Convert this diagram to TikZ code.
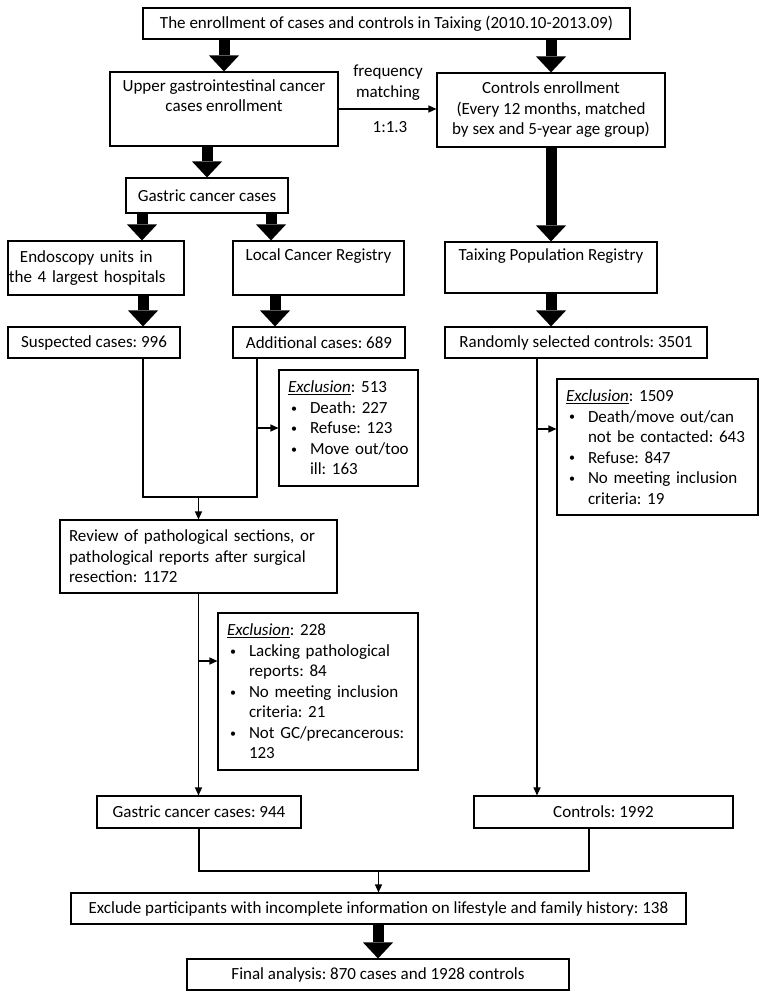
\documentclass[tikz,border=0pt]{standalone}
\usepackage{fontspec}
\setmainfont{Carlito}
\usetikzlibrary{arrows.meta, calc, positioning}

\frenchspacing
\newcommand{\bdot}{\raisebox{1.2pt}{\fontsize{12}{12}\selectfont\textbullet}}
\newcommand{\bitem}[1]{\makebox[22pt][l]{\hspace{3pt}\bdot}#1}
\newcommand{\bcont}[1]{\hspace*{22pt}#1}

\begin{document}
\begin{tikzpicture}[x=1pt, y=-1pt, font=\fontsize{17}{20.5}\selectfont]
        \useasboundingbox (0,0) rectangle (765,998);

        \tikzstyle{bx} = [draw, line width=1.1pt, inner sep=0pt, align=center];
        \tikzstyle{lx} = [bx, align=left, inner xsep=9pt];
        \tikzstyle{fa} = [line width=11pt, -{Triangle[length=16pt, width=30pt, line width=0pt]}];
        \tikzstyle{ar} = [line width=1.3pt, -{Triangle[length=8pt, width=7pt]}];
        \tikzstyle{ln} = [line width=1.3pt];

        % cases / controls enrollment
        \node [bx, minimum width=487pt, minimum height=31pt] (top) at (386.5, 23.5)
            {The enrollment of cases and controls in Taixing (2010.10-2013.09)};
        \node [bx, minimum width=228pt, minimum height=74pt] (gi) at (224, 109)
            {Upper gastrointestinal cancer\\cases enrollment\\\strut};
        \node [bx, minimum width=228pt, minimum height=74pt] (ctrl) at (551, 110)
            {Controls enrollment\\(Every 12 months, matched\\by sex and 5-year age group)};
        \node [align=center, inner sep=0pt] (fm) at (388, 82.5) {frequency\\matching};
        \node [inner sep=0pt] (ratio) at (390, 127) {1:1.3};

        % sources
        \node [bx, minimum width=162pt, minimum height=35pt] (gastric) at (207, 195.5)
            {Gastric cancer cases};
        \node [bx, align=left, inner xsep=1pt, text width=174pt, minimum height=54pt] (endo) at (96, 268)
            {\hspace*{11pt}Endoscopy units in\\the 4 largest hospitals};
        \node [bx, minimum width=171pt, minimum height=54pt] (lcr) at (318.5, 268)
            {Local Cancer Registry\\\strut};
        \node [bx, minimum width=212pt, minimum height=51pt] (tpr) at (551, 267.5)
            {Taixing Population Registry\\\strut};

        \node [bx, minimum width=172pt, minimum height=31pt] (susp) at (94, 342.5)
            {Suspected cases: 996};
        \node [bx, minimum width=172pt, minimum height=31pt] (addc) at (319, 342.5)
            {Additional cases: 689};
        \node [bx, minimum width=262pt, minimum height=31pt] (rand) at (576, 342.5)
            {Randomly selected controls: 3501};

        % exclusions
        \node [lx, text width=121pt, minimum height=116pt] (ex1) at (348.5, 428)
            {\underline{\textit{Exclusion}}: 513\\
             \bitem{Death: 227}\\
             \bitem{Refuse: 123}\\
             \bitem{Move out/too}\\
             \bcont{ill: 163}};
        \node [lx, text width=183pt, minimum height=136pt] (ex2) at (657.5, 447)
            {\underline{\textit{Exclusion}}: 1509\\
             \bitem{Death/move out/can}\\
             \bcont{not be contacted: 643}\\
             \bitem{Refuse: 847}\\
             \bitem{No meeting inclusion}\\
             \bcont{criteria: 19}};
        \node [lx, text width=259pt, minimum height=73pt] (review) at (198.5, 556.5)
            {Review of pathological sections, or\\
             pathological reports after surgical\\
             resection: 1172};
        \node [lx, text width=182pt, minimum height=157pt] (ex3) at (318, 691.5)
            {\underline{\textit{Exclusion}}: 228\\
             \bitem{Lacking pathological}\\
             \bcont{reports: 84}\\
             \bitem{No meeting inclusion}\\
             \bcont{criteria: 21}\\
             \bitem{Not GC/precancerous:}\\
             \bcont{123}};

        % final counts
        \node [bx, minimum width=204pt, minimum height=32pt] (gc) at (199, 812)
            {Gastric cancer cases: 944};
        \node [bx, minimum width=259pt, minimum height=32pt] (cc) at (603.5, 812)
            {Controls: 1992};
        \node [bx, minimum width=615pt, minimum height=31pt] (excl) at (378.5, 908.5)
            {Exclude participants with incomplete information on lifestyle and family history: 138};
        \node [bx, minimum width=382pt, minimum height=31pt] (final) at (378, 974.5)
            {Final analysis: 870 cases and 1928 controls};

        % fat arrows
        \foreach \from/\to in {top/gi, top/ctrl, gi/gastric, excl/final}{
            \draw [fa] (\to.north |- \from.south) -- (\to.north);
        }
        \foreach \from/\to/\x in {gastric/endo/142, gastric/lcr/271, endo/susp/143,
                                  lcr/addc/275, ctrl/tpr/551, tpr/rand/551}{
            \draw [fa] (\from.south -| \x,0) -- (\to.north -| \x,0);
        }

        % thin connectors
        \draw [ar] (gi.east) -- (gi.east -| ctrl.west);

        \coordinate (j1) at (198.5, 497);
        \draw [ln] (susp.south -| 143,0) |- (j1) -| (addc.south -| 257,0);
        \draw [ar] (j1) -- (review.north);
        \draw [ar] (ex1.west -| 257,0) -- (ex1.west);

        \draw [ar] (review.south) -- (review.south |- gc.north);
        \coordinate (e3) at (199, 661);
        \draw [ar] (e3) -- (e3 -| ex3.west);

        \draw [ar] (rand.south -| 537,0) -- (cc.north -| 537,0);
        \coordinate (e2) at (537, 429);
        \draw [ar] (e2) -- (e2 -| ex2.west);

        \coordinate (j2) at (378.5, 871);
        \draw [ln] (gc.south) |- (j2) -| (cc.south -| 589,0);
        \draw [ar] (j2) -- (excl.north);
\end{tikzpicture}
\end{document}
